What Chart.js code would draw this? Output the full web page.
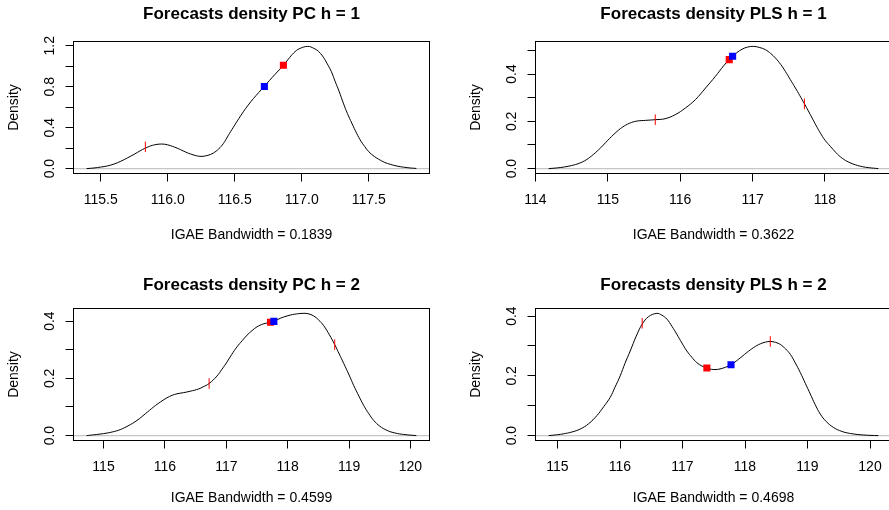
<!DOCTYPE html>
<html><head><meta charset="utf-8">
<script src="https://cdn.jsdelivr.net/npm/chart.js@4.4.1/dist/chart.umd.min.js"></script>
<style>
html,body{margin:0;padding:0;background:#fff;width:889px;height:510px;overflow:hidden;position:relative}
canvas{position:absolute}
</style></head><body>
<canvas id="c1" width="445" height="255" style="left:0px;top:0px"></canvas>
<canvas id="c2" width="460" height="255" style="left:444px;top:0px"></canvas>
<canvas id="c3" width="445" height="255" style="left:0px;top:255px"></canvas>
<canvas id="c4" width="460" height="255" style="left:444px;top:255px"></canvas>
<script>
// ---------- titles ----------
const panelTitles = ["Forecasts density PC h = 1", "Forecasts density PLS h = 1", "Forecasts density PC h = 2", "Forecasts density PLS h = 2"];
const xAxisTitles = ["IGAE Bandwidth = 0.1839", "IGAE Bandwidth = 0.3622", "IGAE Bandwidth = 0.4599", "IGAE Bandwidth = 0.4698"];
const yAxisTitle = "Density";

// ---------- panel 1: PC h = 1 ----------
const pc1X = [115.395,115.45,115.50,115.55,115.60,115.65,115.70,115.75,115.80,115.85,115.90,115.955,116.00,116.07,116.12,116.17,116.24,116.30,116.34,116.38,116.415,116.45,116.49,116.53,116.564,116.60,116.64,116.68,116.72,116.76,116.80,116.863,116.90,116.94,116.98,117.045,117.09,117.124,117.155,117.187,117.22,117.249,117.28,117.31,117.34,117.373,117.40,117.435,117.47,117.50,117.54,117.572,117.62,117.66,117.71,117.76,117.81,117.855];
const pc1Y = [0.000,0.006,0.015,0.026,0.045,0.072,0.105,0.140,0.178,0.210,0.232,0.240,0.232,0.200,0.170,0.143,0.120,0.130,0.152,0.192,0.245,0.320,0.405,0.488,0.555,0.620,0.685,0.745,0.803,0.862,0.920,1.009,1.070,1.130,1.170,1.194,1.175,1.146,1.100,1.031,0.950,0.852,0.750,0.640,0.540,0.445,0.370,0.282,0.215,0.165,0.120,0.093,0.060,0.042,0.025,0.014,0.006,0.002];
const pc1TickX = [115.833], pc1TickY = [0.213];
const pc1RedX = [116.863], pc1RedY = [1.009];
const pc1BlueX = [116.721], pc1BlueY = [0.803];
const pc1XTicks = [115.5, 116.0, 116.5, 117.0, 117.5];
const pc1XLabels = ["115.5", "116.0", "116.5", "117.0", "117.5"];
const pc1YTicks = [0, 0.2, 0.4, 0.6, 0.8, 1.0, 1.2];
const pc1YLabels = ["0.0", "", "0.4", "", "0.8", "", "1.2"];
const pc1XRange = [115.297, 117.953], pc1YRange = [-0.04776, 1.24176];

// ---------- panel 2: PLS h = 1 ----------
const pls1X = [114.182,114.30,114.40,114.50,114.60,114.70,114.80,114.90,115.00,115.10,115.20,115.30,115.40,115.52,115.655,115.79,115.93,116.07,116.21,116.35,116.485,116.60,116.677,116.724,116.78,116.854,116.93,117.015,117.10,117.177,117.25,117.315,117.39,117.453,117.52,117.591,117.65,117.716,117.77,117.822,117.88,117.937,118.00,118.075,118.15,118.237,118.33,118.421,118.52,118.605,118.737];
const pls1Y = [0.000,0.003,0.007,0.013,0.022,0.037,0.060,0.088,0.120,0.150,0.175,0.192,0.201,0.204,0.207,0.211,0.228,0.256,0.292,0.341,0.390,0.435,0.461,0.475,0.490,0.505,0.514,0.517,0.512,0.503,0.487,0.468,0.440,0.411,0.377,0.341,0.310,0.274,0.244,0.214,0.181,0.150,0.120,0.094,0.068,0.044,0.027,0.016,0.008,0.004,0.000];
const pls1TickX = [115.655, 117.716], pls1TickY = [0.207, 0.274];
const pls1RedX = [116.677], pls1RedY = [0.461];
const pls1BlueX = [116.724], pls1BlueY = [0.475];
const pls1XTicks = [114, 115, 116, 117, 118];
const pls1XLabels = ["114", "115", "116", "117", "118"];
const pls1YTicks = [0, 0.1, 0.2, 0.3, 0.4, 0.5];
const pls1YLabels = ["0.0", "", "0.2", "", "0.4", ""];
const pls1XRange = [114.0, 118.919], pls1YRange = [-0.02068, 0.53768];

// ---------- panel 3: PC h = 2 ----------
const pc2X = [114.726,114.85,115.00,115.15,115.272,115.40,115.545,115.68,115.815,115.93,116.033,116.12,116.197,116.30,116.413,116.55,116.62,116.72,116.848,116.93,117.011,117.09,117.174,117.26,117.338,117.42,117.50,117.60,117.72,117.775,117.88,117.99,118.11,118.235,118.33,118.424,118.50,118.587,118.68,118.766,118.84,118.913,119.00,119.076,119.16,119.239,119.32,119.402,119.50,119.62,119.75,119.891,120.095];
const pc2Y = [0.000,0.003,0.007,0.013,0.021,0.034,0.053,0.076,0.100,0.118,0.132,0.141,0.146,0.150,0.155,0.163,0.170,0.182,0.208,0.232,0.257,0.284,0.310,0.332,0.351,0.367,0.380,0.390,0.396,0.399,0.410,0.418,0.424,0.427,0.426,0.418,0.405,0.384,0.352,0.318,0.285,0.252,0.212,0.175,0.138,0.105,0.077,0.053,0.033,0.018,0.009,0.004,0.000];
const pc2TickX = [116.72, 118.766], pc2TickY = [0.182, 0.318];
const pc2RedX = [117.72], pc2RedY = [0.396];
const pc2BlueX = [117.775], pc2BlueY = [0.399];
const pc2XTicks = [115, 116, 117, 118, 119, 120];
const pc2XLabels = ["115", "116", "117", "118", "119", "120"];
const pc2YTicks = [0, 0.1, 0.2, 0.3, 0.4];
const pc2YLabels = ["0.0", "", "0.2", "", "0.4"];
const pc2XRange = [114.511, 120.31], pc2YRange = [-0.01708, 0.44408];

// ---------- panel 4: PLS h = 2 ----------
const pls2X = [114.859,115.00,115.096,115.23,115.363,115.50,115.63,115.74,115.843,115.92,116.003,116.08,116.163,116.26,116.355,116.456,116.59,116.67,116.75,116.83,116.91,116.99,117.07,117.15,117.23,117.31,117.39,117.46,117.52,117.60,117.69,117.776,117.90,118.03,118.14,118.244,118.33,118.404,118.49,118.565,118.65,118.725,118.80,118.885,118.965,119.045,119.12,119.205,119.30,119.418,119.55,119.69,119.90,120.133];
const pls2Y = [0.000,0.003,0.006,0.012,0.022,0.040,0.067,0.097,0.128,0.162,0.200,0.242,0.283,0.333,0.373,0.398,0.409,0.403,0.390,0.366,0.339,0.310,0.283,0.262,0.244,0.233,0.226,0.222,0.221,0.223,0.229,0.237,0.256,0.278,0.295,0.307,0.313,0.315,0.312,0.305,0.290,0.272,0.245,0.211,0.175,0.139,0.105,0.072,0.047,0.027,0.014,0.007,0.002,0.000];
const pls2TickX = [116.355, 118.404], pls2TickY = [0.376, 0.315];
const pls2RedX = [117.39], pls2RedY = [0.226];
const pls2BlueX = [117.776], pls2BlueY = [0.237];
const pls2XTicks = [115, 116, 117, 118, 119, 120];
const pls2XLabels = ["115", "116", "117", "118", "119", "120"];
const pls2YTicks = [0, 0.1, 0.2, 0.3, 0.4];
const pls2YLabels = ["0.0", "", "0.2", "", "0.4"];
const pls2XRange = [114.648, 120.344], pls2YRange = [-0.01636, 0.42536];

// ---------- drawing ----------
const FONT = '"Liberation Sans", Arial, Helvetica, sans-serif';
const pts = (xs, ys) => xs.map((x, i) => ({x: x, y: ys[i]}));

const rPlot = {
  id: 'rplot',
  beforeDatasetsDraw(chart) {
    const {ctx, chartArea: a, scales} = chart;
    const y0 = scales.y.getPixelForValue(0);
    ctx.save();
    ctx.strokeStyle = '#c6c6c6';
    ctx.lineWidth = 1.3;
    ctx.beginPath(); ctx.moveTo(a.left, y0); ctx.lineTo(a.right, y0); ctx.stroke();
    ctx.restore();
  },
  afterDraw(chart, args, opts) {
    const {ctx, chartArea: a} = chart;
    ctx.save();
    ctx.strokeStyle = '#000'; ctx.lineWidth = 1;
    ctx.strokeRect(a.left, a.top, a.right - a.left, a.bottom - a.top);
    ctx.font = 'bold 17px ' + FONT;
    ctx.fillStyle = '#000'; ctx.textAlign = 'center'; ctx.textBaseline = 'middle';
    ctx.fillText(opts.text, (a.left + a.right) / 2, opts.y);
    ctx.restore();
  }
};

function makePanel(id, p) {
  const axisFont = {family: FONT, size: 14};
  new Chart(document.getElementById(id), {
    type: 'scatter',
    data: {datasets: [
      {data: pts(p.blueX, p.blueY), pointStyle: 'rect', pointRadius: 5, pointBorderWidth: 0, backgroundColor: '#0000ff', borderColor: '#0000ff'},
      {data: pts(p.redX, p.redY), pointStyle: 'rect', pointRadius: 5, pointBorderWidth: 0, backgroundColor: '#ff0000', borderColor: '#ff0000'},
      {data: pts(p.tickX, p.tickY), pointStyle: 'line', pointRotation: 90, pointRadius: 5.3, pointBorderWidth: 1, borderColor: '#ff0000', backgroundColor: '#ff0000'},
      {data: pts(p.curveX, p.curveY), showLine: true, pointRadius: 0, borderColor: '#000', borderWidth: 1, tension: 0.4, fill: false}
    ]},
    options: {
      responsive: false, animation: false, devicePixelRatio: 1,
      layout: {padding: p.pad},
      plugins: {legend: {display: false}, tooltip: {enabled: false}, rplot: {text: p.title, y: p.titleY}},
      scales: {
        x: {
          type: 'linear', bounds: 'data', min: p.xr[0], max: p.xr[1],
          afterBuildTicks: s => { s.ticks = p.xt.map(v => ({value: v})); },
          afterFit: s => { s.height = p.xh; },
          grid: {drawOnChartArea: false, drawTicks: true, tickLength: 8, color: '#000', lineWidth: 1},
          border: {display: false},
          ticks: {autoSkip: false, minRotation: 0, maxRotation: 0, padding: 10.5, color: '#000', font: axisFont, callback: (v, i) => p.xl[i]},
          title: {display: true, text: p.xTitle, color: '#000', font: axisFont, padding: {top: 0, bottom: 0}}
        },
        y: {
          type: 'linear', bounds: 'data', min: p.yr[0], max: p.yr[1],
          afterBuildTicks: s => { s.ticks = p.yt.map(v => ({value: v})); },
          afterFit: s => { s.width = 73.5; },
          grid: {drawOnChartArea: false, drawTicks: true, tickLength: 8, color: '#000', lineWidth: 1},
          border: {display: false},
          ticks: {autoSkip: false, minRotation: 90, maxRotation: 90, crossAlign: 'center', padding: 6, color: '#000', font: axisFont, callback: (v, i) => p.yl[i]},
          title: {display: true, text: yAxisTitle, color: '#000', font: axisFont, padding: {top: 6, bottom: 0}}
        }
      }
    },
    plugins: [rPlot]
  });
}

makePanel('c1', {title: panelTitles[0], titleY: 14.4, xTitle: xAxisTitles[0],
  curveX: pc1X, curveY: pc1Y, tickX: pc1TickX, tickY: pc1TickY, redX: pc1RedX, redY: pc1RedY, blueX: pc1BlueX, blueY: pc1BlueY,
  xt: pc1XTicks, xl: pc1XLabels, yt: pc1YTicks, yl: pc1YLabels, xr: pc1XRange, yr: pc1YRange,
  xh: 70, pad: {left: 0, right: 15.5, top: 41.5, bottom: 11.5}});
makePanel('c2', {title: panelTitles[1], titleY: 14.4, xTitle: xAxisTitles[1],
  curveX: pls1X, curveY: pls1Y, tickX: pls1TickX, tickY: pls1TickY, redX: pls1RedX, redY: pls1RedY, blueX: pls1BlueX, blueY: pls1BlueY,
  xt: pls1XTicks, xl: pls1XLabels, yt: pls1YTicks, yl: pls1YLabels, xr: pls1XRange, yr: pls1YRange,
  xh: 70, pad: {left: 18, right: 12.5, top: 41.5, bottom: 11.5}});
makePanel('c3', {title: panelTitles[2], titleY: 30.8, xTitle: xAxisTitles[2],
  curveX: pc2X, curveY: pc2Y, tickX: pc2TickX, tickY: pc2TickY, redX: pc2RedX, redY: pc2RedY, blueX: pc2BlueX, blueY: pc2BlueY,
  xt: pc2XTicks, xl: pc2XLabels, yt: pc2YTicks, yl: pc2YLabels, xr: pc2XRange, yr: pc2YRange,
  xh: 66.4, pad: {left: 0, right: 15.5, top: 53.5, bottom: 3.1}});
makePanel('c4', {title: panelTitles[3], titleY: 30.8, xTitle: xAxisTitles[3],
  curveX: pls2X, curveY: pls2Y, tickX: pls2TickX, tickY: pls2TickY, redX: pls2RedX, redY: pls2RedY, blueX: pls2BlueX, blueY: pls2BlueY,
  xt: pls2XTicks, xl: pls2XLabels, yt: pls2YTicks, yl: pls2YLabels, xr: pls2XRange, yr: pls2YRange,
  xh: 66.4, pad: {left: 18, right: 12.5, top: 53.5, bottom: 3.1}});
</script>
</body></html>
